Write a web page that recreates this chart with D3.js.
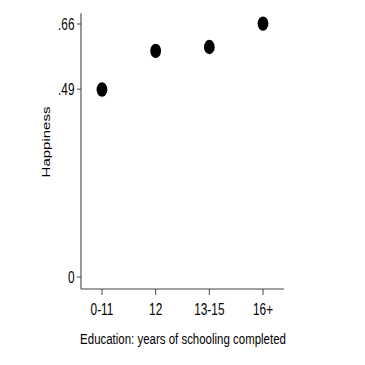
<!DOCTYPE html>
<html>
<head>
<meta charset="utf-8">
<script src="https://cdn.jsdelivr.net/npm/d3@7"></script>
<style>
  body { margin: 0; background: #fff; }
  text { font-family: "Liberation Sans", Arial, sans-serif; fill: #000; }
</style>
</head>
<body>
<div id="graph"></div>
<script>
(function(){
	"use strict";

	// education groups and mean happiness
	var categories = ["0-11", "12", "13-15", "16+"];
	var happiness = [0.489, 0.590, 0.600, 0.661];
	var yTicks = [0, 0.49, 0.66];
	var yTickLabels = ["0", ".49", ".66"];

	var width = 365, height = 365;
	var squish = 0.74; // the original graph is narrowed horizontally

	var svg = d3.select("#graph").append("svg")
		.attr("width", width)
		.attr("height", height);

	// y: 0 at 277, .66 at 24
	var y = d3.scaleLinear().domain([0, 0.66]).range([277, 24]);
	var x = d3.scalePoint().domain(categories).range([102, 263]);

	var axisColor = "#444";

	// axis lines
	svg.append("line")
		.attr("x1", 81).attr("x2", 81)
		.attr("y1", y(0.688)).attr("y2", 289)
		.attr("stroke", axisColor).attr("stroke-width", 1.1);
	svg.append("line")
		.attr("x1", 81).attr("x2", 284)
		.attr("y1", 289).attr("y2", 289)
		.attr("stroke", axisColor).attr("stroke-width", 1.1);

	// y ticks
	var yt = svg.selectAll("g.ytick")
		.data(yTicks)
		.enter().append("g")
		.attr("class", "ytick");
	yt.append("line")
		.attr("x1", 77).attr("x2", 81)
		.attr("y1", function(d){ return y(d); })
		.attr("y2", function(d){ return y(d); })
		.attr("stroke", axisColor);
	yt.append("text")
		.attr("transform", function(d){ return "translate(74.5," + y(d) + ") scale(" + squish + ",1)"; })
		.attr("text-anchor", "end")
		.attr("dy", "0.36em")
		.attr("font-size", 16)
		.text(function(d, i){ return yTickLabels[i]; });

	// x ticks
	var xt = svg.selectAll("g.xtick")
		.data(categories)
		.enter().append("g")
		.attr("class", "xtick");
	xt.append("line")
		.attr("x1", function(d){ return x(d); })
		.attr("x2", function(d){ return x(d); })
		.attr("y1", 289).attr("y2", 295)
		.attr("stroke", axisColor);
	xt.append("text")
		.attr("transform", function(d){ return "translate(" + x(d) + ",314.5) scale(" + squish + ",1)"; })
		.attr("text-anchor", "middle")
		.attr("font-size", 16)
		.text(function(d){ return d; });

	// points
	svg.selectAll("ellipse")
		.data(happiness)
		.enter().append("ellipse")
		.attr("cx", function(d, i){ return x(categories[i]); })
		.attr("cy", function(d){ return y(d); })
		.attr("rx", 5.4)
		.attr("ry", 7.2)
		.attr("fill", "#000");

	// axis titles
	svg.append("text")
		.attr("transform", "translate(183,344) scale(" + squish + ",1)")
		.attr("text-anchor", "middle")
		.attr("font-size", 15.5)
		.text("Education: years of schooling completed");

	svg.append("text")
		.attr("transform", "translate(49.5,142) scale(" + squish + ",1) rotate(-90)")
		.attr("text-anchor", "middle")
		.attr("font-size", 15)
		.text("Happiness");
})();
</script>
</body>
</html>
